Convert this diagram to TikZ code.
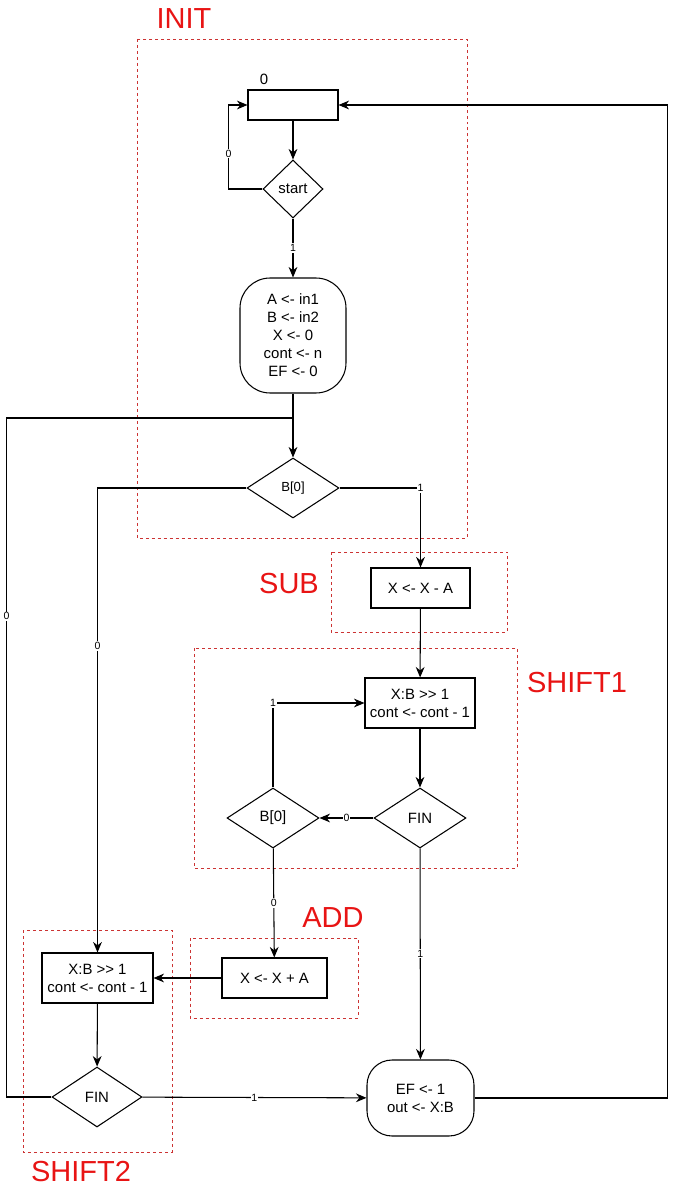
\documentclass[tikz,border=0pt]{standalone}
\usepackage{fontspec}
\setmainfont{Liberation Sans}
\usetikzlibrary{shapes.geometric,arrows.meta}
\definecolor{grpred}{RGB}{204,51,51}
\definecolor{ttlred}{RGB}{232,20,20}

\begin{document}
\begin{tikzpicture}[x=0.02cm, y=-0.02cm, line width=0.6pt,
    every node/.style={font=\fontsize{8.5}{10.2}\selectfont, align=center, inner sep=1pt},
    blk/.style={draw, rectangle, minimum height=0.8cm},
    cond/.style={draw, diamond, minimum width=1.84cm, minimum height=1.2cm, inner sep=0pt},
    lbl/.style={font=\fontsize{6}{7}\selectfont, fill=white, inner sep=0.5pt},
    grp/.style={draw=grpred, dash pattern=on 1.7pt off 1.7pt, line width=0.5pt},
    ttl/.style={text=ttlred, font=\fontsize{16.5}{18}\selectfont},
    arr/.style={-{Stealth[length=6pt, width=5pt]}}]
    \useasboundingbox (0,0) rectangle (677,1189);

    % groups
    \draw[grp] (137,39) rectangle (467,538);
    \draw[grp] (331,552) rectangle (507,632);
    \draw[grp] (194,648) rectangle (517,868);
    \draw[grp] (190,938) rectangle (358,1018);
    \draw[grp] (23,930) rectangle (172,1152);
    \node[ttl] (tinit) at (184,19) {INIT};
    \node[ttl] (tsub) at (289,584) {SUB};
    \node[ttl] (tsh1) at (577,683) {SHIFT1};
    \node[ttl] (tadd) at (333,918) {ADD};
    \node[ttl] (tsh2) at (81,1172) {SHIFT2};

    % states
    \node[blk, minimum width=1.8cm, minimum height=0.6cm] (r0) at (293,105) {};
    \node (z0) at (264,79) {0};
    \node[cond, minimum width=1.2cm, minimum height=1.16cm] (st) at (293,189) {start};
    \node[draw, rounded corners=0.6cm, minimum width=2.12cm, minimum height=2.3cm] (ini) at (293,335.5) {A <- in1\\B <- in2\\X <- 0\\cont <- n\\EF <- 0};
    \node[cond, font=\fontsize{7.5}{8}\selectfont] (b0) at (293,488) {B[0]};
    \node[blk, minimum width=1.98cm] (sub) at (420.5,588) {X <- X - A};
    \node[blk, minimum width=2.2cm, minimum height=1cm] (s1) at (420,703) {X:B >{}> 1\\cont <- cont - 1};
    \node[cond] (fin1) at (420,818) {FIN};
    \node[cond] (b1) at (273,818) {B[0]};
    \node[blk, minimum width=2.1cm] (add) at (274.5,978) {X <- X + A};
    \node[blk, minimum width=2.22cm, minimum height=1cm] (s2) at (97.5,978) {X:B >{}> 1\\cont <- cont - 1};
    \node[cond, minimum width=1.8cm] (fin2) at (97,1097) {FIN};
    \node[draw, rounded corners=0.5cm, minimum width=2.14cm, minimum height=1.52cm] (fin) at (420.5,1098) {EF <- 1\\out <- X:B};
    \coordinate (j) at (293,418);

    % transitions
    \draw[arr] (r0) -- (st);
    \draw[arr] (st.west) -- ++(-34,0) |- node[lbl, pos=0.21] {0} (r0.west);
    \draw[arr] (st) -- node[lbl] {1} (ini);
    \draw[arr] (ini) -- (b0);
    \draw (fin2.west) -- ++(-45,0) |- node[lbl, pos=0.354] {0} (j);
    \draw[arr] (b0.west) -| node[lbl, pos=0.67] {0} (s2.north);
    \draw[arr] (b0.east) -| node[lbl, pos=0.5] {1} (sub.north);
    \draw[arr] (sub) -- (s1);
    \draw[arr] (s1) -- (fin1);
    \draw[arr] (fin1) -- node[lbl] {0} (b1);
    \draw[arr] (b1.north) |- node[lbl, pos=0.5] {1} (s1.west);
    \draw[arr] (b1) -- node[lbl] {0} (add);
    \draw[arr] (add) -- (s2);
    \draw[arr] (s2) -- (fin2);
    \draw[arr] (fin2) -- node[lbl] {1} (fin);
    \draw[arr] (fin1) -- node[lbl] {1} (fin);
    \draw[arr] (fin.east) -- ++(193,0) |- (r0.east);
\end{tikzpicture}
\end{document}
